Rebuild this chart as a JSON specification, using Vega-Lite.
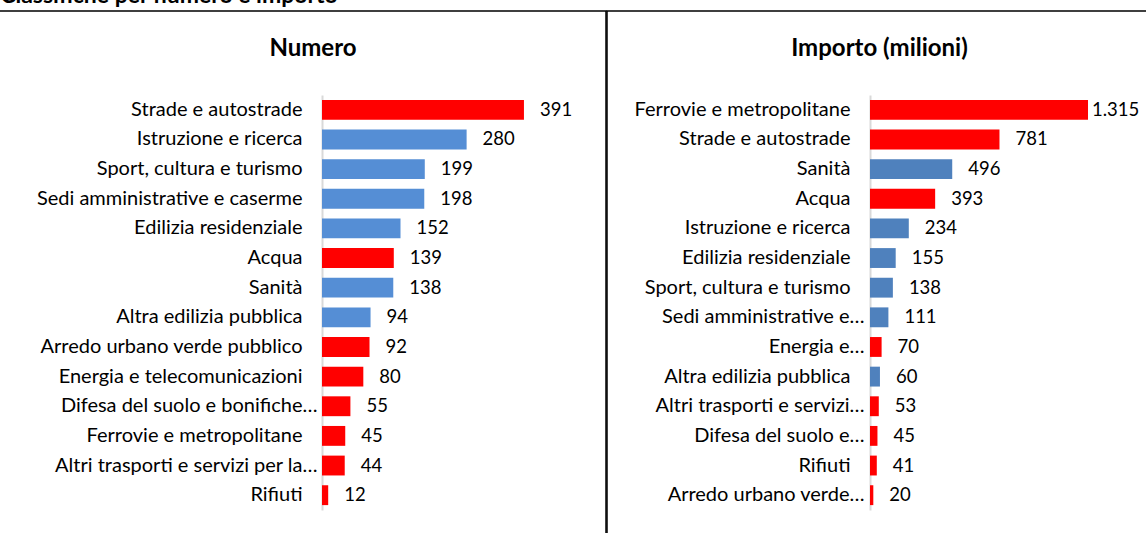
{
  "$schema": "https://vega.github.io/schema/vega-lite/v6.json",
  "padding": {"left": -15, "top": -15, "right": -14, "bottom": 2},
  "autosize": {"type": "pad"},
  "background": "white",
  "title": {"text": "Classifiche per numero e importo", "anchor": "start", "dx": 15, "font": "Lato", "fontSize": 23, "fontWeight": "bold", "color": "#000000", "baseline": "alphabetic", "offset": -16},
  "data": {"values": [
    {"categoria": "Strade e autostrade", "tipo": "reti", "numero": 391, "importo": 781, "voce_num": "Strade e autostrade", "voce_imp": "Strade e autostrade"},
    {"categoria": "Istruzione e ricerca", "tipo": "edilizia", "numero": 280, "importo": 234, "voce_num": "Istruzione e ricerca", "voce_imp": "Istruzione e ricerca"},
    {"categoria": "Sport, cultura e turismo", "tipo": "edilizia", "numero": 199, "importo": 138, "voce_num": "Sport, cultura e turismo", "voce_imp": "Sport, cultura e turismo"},
    {"categoria": "Sedi amministrative e caserme", "tipo": "edilizia", "numero": 198, "importo": 111, "voce_num": "Sedi amministrative e caserme", "voce_imp": "Sedi amministrative e…"},
    {"categoria": "Edilizia residenziale", "tipo": "edilizia", "numero": 152, "importo": 155, "voce_num": "Edilizia residenziale", "voce_imp": "Edilizia residenziale"},
    {"categoria": "Acqua", "tipo": "reti", "numero": 139, "importo": 393, "voce_num": "Acqua\u00a0\u00a0\u00a0\u00a0\u00a0", "voce_imp": "Acqua\u00a0"},
    {"categoria": "Sanità", "tipo": "edilizia", "numero": 138, "importo": 496, "voce_num": "Sanità", "voce_imp": "Sanità"},
    {"categoria": "Altra edilizia pubblica", "tipo": "edilizia", "numero": 94, "importo": 60, "voce_num": "Altra edilizia pubblica", "voce_imp": "Altra edilizia pubblica"},
    {"categoria": "Arredo urbano verde pubblico", "tipo": "reti", "numero": 92, "importo": 20, "voce_num": "Arredo urbano verde pubblico", "voce_imp": "Arredo urbano verde…"},
    {"categoria": "Energia e telecomunicazioni", "tipo": "reti", "numero": 80, "importo": 70, "voce_num": "Energia e telecomunicazioni", "voce_imp": "Energia e…"},
    {"categoria": "Difesa del suolo e bonifiche", "tipo": "reti", "numero": 55, "importo": 45, "voce_num": "Difesa del suolo e bonifiche…", "voce_imp": "Difesa del suolo e…"},
    {"categoria": "Ferrovie e metropolitane", "tipo": "reti", "numero": 45, "importo": 1315, "voce_num": "Ferrovie e metropolitane", "voce_imp": "Ferrovie e metropolitane"},
    {"categoria": "Altri trasporti e servizi per la mobilità", "tipo": "reti", "numero": 44, "importo": 53, "voce_num": "Altri trasporti e servizi per la…", "voce_imp": "Altri trasporti e servizi…"},
    {"categoria": "Rifiuti", "tipo": "reti", "numero": 12, "importo": 41, "voce_num": "Rifiuti", "voce_imp": "Rifiuti"}
  ]},
  "spacing": -1.5,
  "resolve": {"scale": {"color": "independent", "x": "independent", "y": "independent"}},
  "hconcat": [
    {
      "width": 620,
      "height": 530,
      "title": {"text": "Numero", "dx": 17, "dy": 62, "offset": 0, "baseline": "middle", "anchor": "middle", "font": "Lato", "fontSize": 24, "fontWeight": "bold", "color": "#000000"},
      "encoding": {
        "y": {"field": "voce_num", "type": "nominal", "sort": {"field": "numero", "order": "descending"},
          "scale": {"range": [84, 499], "paddingInner": 0.33, "paddingOuter": 0.165},
          "axis": {"title": null, "offset": -336, "ticks": false, "domainColor": "#D9D9D9", "domainWidth": 2,
            "labelFont": "Lato", "labelFontSize": 20, "labelColor": "#000000", "labelLimit": 400,
            "labelPadding": {"condition": {"test": "indexof(datum.label, '…') >= 0", "value": 5}, "value": 20}}},
        "x": {"field": "numero", "type": "quantitative", "scale": {"domain": [0, 400], "range": [336, 542.6], "zero": true, "nice": false}, "axis": null}
      },
      "layer": [
        {"mark": {"type": "bar"},
         "encoding": {"color": {"field": "tipo", "type": "nominal", "scale": {"domain": ["edilizia", "reti"], "range": ["#558ED5", "#FF0000"]}, "legend": null}}},
        {"mark": {"type": "text", "align": "left", "baseline": "middle", "dx": 16, "font": "Lato", "fontSize": 18.5, "color": "#000000"},
         "encoding": {"text": {"field": "numero", "type": "quantitative", "format": ",d"}}}
      ]
    },
    {
      "width": 555,
      "height": 530,
      "title": {"text": "Importo (milioni)", "dx": -5, "dy": 62, "offset": 0, "baseline": "middle", "anchor": "middle", "font": "Lato", "fontSize": 24, "fontWeight": "bold", "color": "#000000"},
      "encoding": {
        "y": {"field": "voce_imp", "type": "nominal", "sort": {"field": "importo", "order": "descending"},
          "scale": {"range": [84, 499], "paddingInner": 0.33, "paddingOuter": 0.165},
          "axis": {"title": null, "offset": -263, "ticks": false, "domainColor": "#D9D9D9", "domainWidth": 2,
            "labelFont": "Lato", "labelFontSize": 20, "labelColor": "#000000", "labelLimit": 400,
            "labelPadding": {"condition": {"test": "indexof(datum.label, '…') >= 0", "value": 6}, "value": 20}}},
        "x": {"field": "importo", "type": "quantitative", "scale": {"domain": [0, 1400], "range": [263, 495.1], "zero": true, "nice": false}, "axis": null}
      },
      "layer": [
        {"mark": {"type": "bar"},
         "encoding": {"color": {"field": "tipo", "type": "nominal", "scale": {"domain": ["edilizia", "reti"], "range": ["#4F81BD", "#FF0000"]}, "legend": null}}},
        {"mark": {"type": "text", "align": "left", "baseline": "middle", "dx": 16, "font": "Lato", "fontSize": 18.5, "color": "#000000"},
         "encoding": {"text": {"condition": {"test": "datum.importo < 1000", "field": "importo", "type": "quantitative", "format": ",d"}, "value": ""}}},
        {"mark": {"type": "text", "align": "left", "baseline": "middle", "dx": 4, "font": "Lato", "fontSize": 18.5, "color": "#000000"},
         "encoding": {"text": {"condition": {"test": "datum.importo >= 1000", "field": "importo", "type": "quantitative", "format": ",d"}, "value": ""}}}
      ]
    }
  ],
  "config": {
    "locale": {"number": {"decimal": ",", "thousands": ".", "grouping": [3], "currency": ["", " €"]}},
    "view": {"stroke": "#000000", "strokeWidth": 1.5}
  }
}
